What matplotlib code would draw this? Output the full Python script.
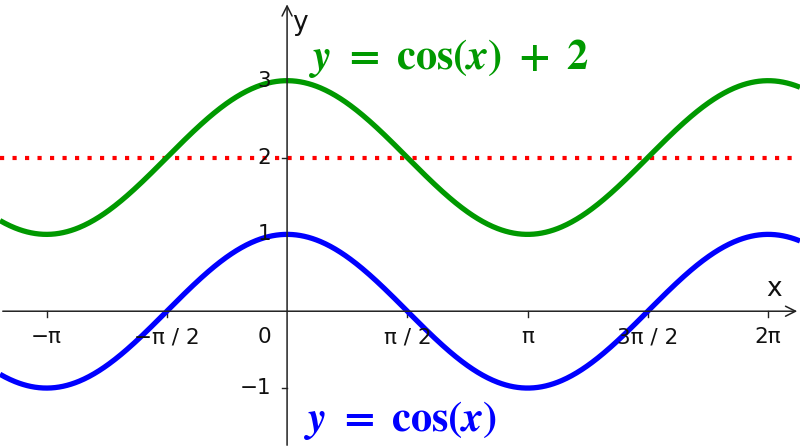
import numpy as np
import matplotlib
matplotlib.use("Agg")
import matplotlib.pyplot as plt

plt.rcParams['font.family'] = ['DejaVu Sans']
plt.rcParams['mathtext.fontset'] = 'stix'

# data
shifts = [0, 2]                      # y = cos(x) + shift
curve_colors = ['#0000ff', '#009900']
curve_labels = [r'$\boldsymbol{y}\ \mathbf{=\ cos(}\boldsymbol{x}\mathbf{)}$',
                r'$\boldsymbol{y}\ \mathbf{=\ cos(}\boldsymbol{x}\mathbf{)\ +\ 2}$']
label_pos = [(0.22, -1.42), (0.29, 3.29)]
midline = 2
xtick_vals = [-np.pi, -np.pi / 2, np.pi / 2, np.pi, 3 * np.pi / 2, 2 * np.pi]
xtick_labels = ['\u2212\u03c0', '\u2212\u03c0 / 2', '\u03c0 / 2', '\u03c0', '3\u03c0 / 2', '2\u03c0']
ytick_vals = [-1, 1, 2, 3]
ytick_labels = ['\u22121', '1', '2', '3']

xmin, xmax = -3.75, 6.70
ymin, ymax = -1.78, 4.05

fig = plt.figure(figsize=(8, 4.48), dpi=100)
ax = fig.add_axes([0, 0, 1, 1])
ax.set_xlim(xmin, xmax)
ax.set_ylim(ymin, ymax)
ax.axis('off')

# axes with open arrow heads
ax.annotate('', xy=(xmax, 0), xytext=(xmin, 0),
            arrowprops=dict(arrowstyle='->', lw=1.1, color='#222222', mutation_scale=18))
ax.annotate('', xy=(0, ymax - 0.02), xytext=(0, ymin),
            arrowprops=dict(arrowstyle='->', lw=1.1, color='#222222', mutation_scale=18))
ax.text(6.36, 0.12, 'x', fontsize=19, ha='center', va='bottom', color='#111111')
ax.text(0.17, 3.75, 'y', fontsize=19, ha='center', va='center', color='#111111')

# ticks
for v, lab in zip(xtick_vals, xtick_labels):
    ax.plot([v, v], [0, -0.07], color='#222222', lw=1.0)
    ax.text(v, -0.34, lab, fontsize=15.5, ha='center', va='center', color='#111111')
ax.text(-0.30, -0.34, '0', fontsize=15.5, ha='center', va='center', color='#111111')
for v, lab in zip(ytick_vals, ytick_labels):
    ax.plot([-0.07, 0], [v, v], color='#222222', lw=1.0)
    ax.text(-0.21, v, lab, fontsize=15.5, ha='right', va='center', color='#111111')

# midline
ax.axhline(midline, color='#ff0000', lw=3.0, linestyle=(0, (1, 2)), dash_capstyle='butt')

# curves
xs = np.linspace(xmin, xmax, 800)
for s, c in zip(shifts, curve_colors):
    ax.plot(xs, np.cos(xs) + s, color=c, lw=3.8, solid_capstyle='butt')

for lab, (px, py), c in zip(curve_labels, label_pos, curve_colors):
    ax.text(px, py, lab, fontsize=30.5, color=c, ha='left', va='center')

fig.savefig('out.png', dpi=100)
